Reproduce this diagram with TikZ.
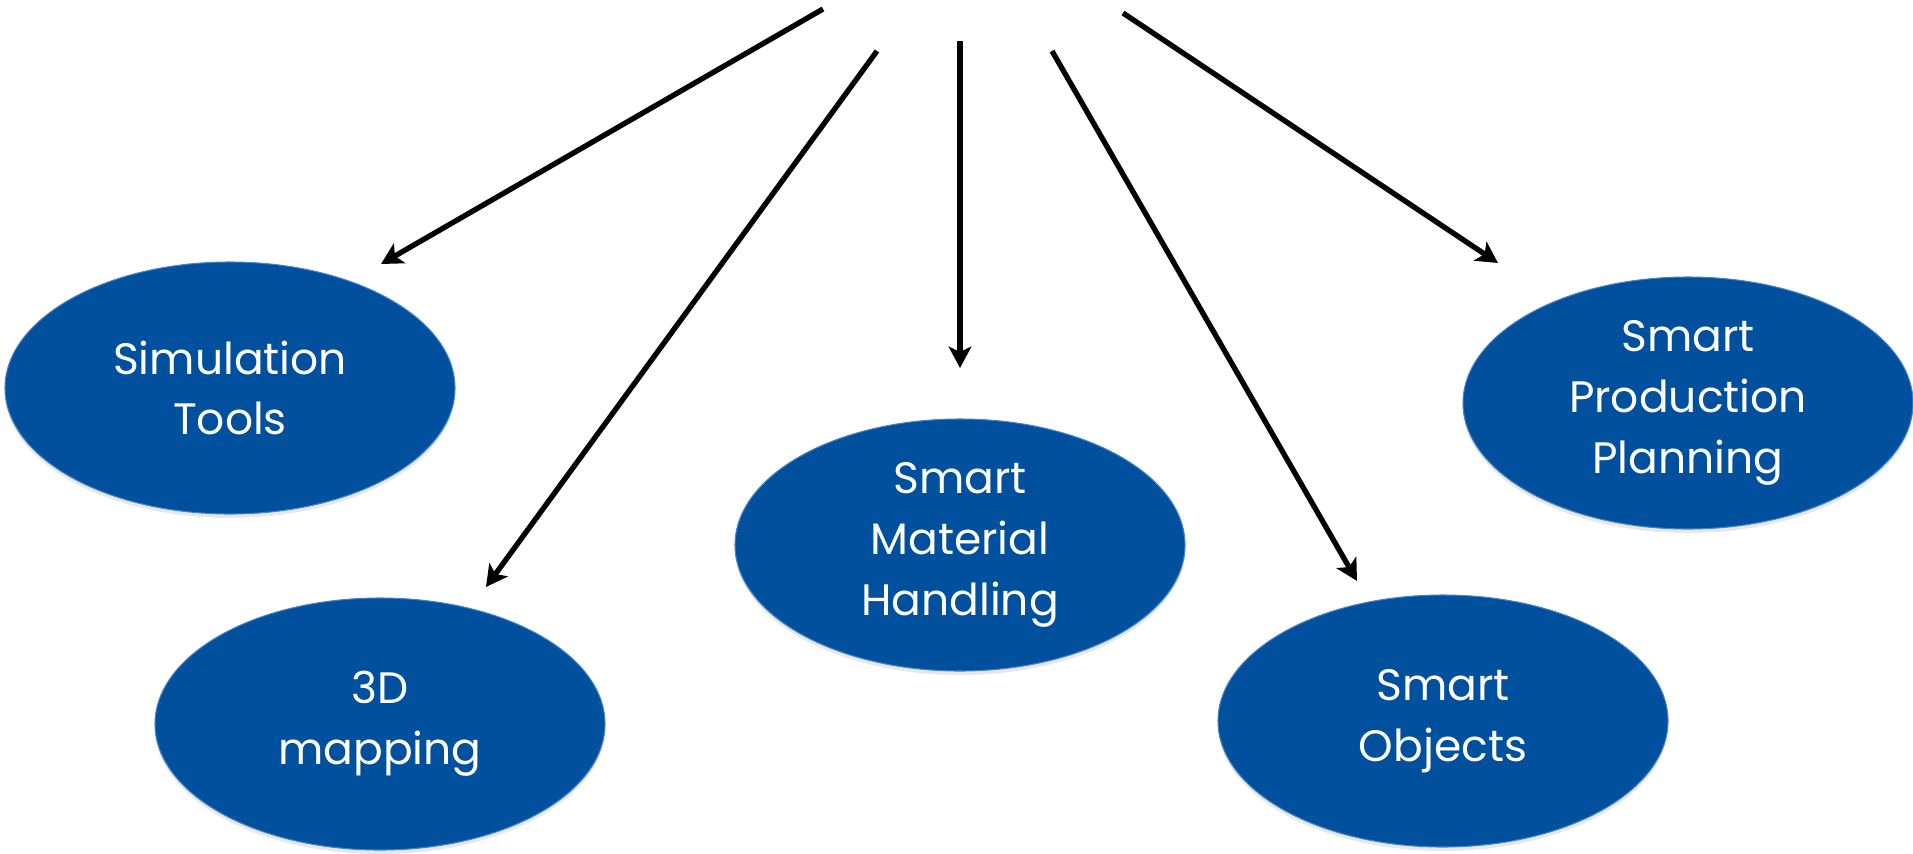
\documentclass[tikz,border=0pt]{standalone}
\usepackage{fontspec}
\setmainfont{Poppins}
\usetikzlibrary{arrows.meta,shapes.geometric,shadows}
\definecolor{topicblue}{RGB}{0,80,158}
\definecolor{topicedge}{RGB}{70,130,200}
\tikzset{
  topic/.style={ellipse, fill=topicblue, draw=topicedge, line width=0.8pt,
    minimum width=450*0.75pt, minimum height=252*0.75pt, inner sep=0pt,
    text=white, align=center, font=\fontsize{33}{45.5}\selectfont,
    drop shadow={opacity=0.18, shadow xshift=0pt, shadow yshift=-3pt}},
  link/.style={line width=4pt, -{Stealth[length=16pt, width=17pt, inset=4pt]}}
}
\begin{document}
\begin{tikzpicture}[x=0.75pt, y=-0.75pt]
  \useasboundingbox (0,0) rectangle (1913,853);

  % topic ellipses
  \node[topic] (sim)  at (230,388)  {Simulation\\Tools};
  \node[topic] (map)  at (380,724)  {3D\\mapping};
  \node[topic] (mat)  at (960,545)  {Smart\\Material\\Handling};
  \node[topic] (obj)  at (1443,721) {Smart\\Objects};
  \node[topic] (plan) at (1688,403) {Smart\\Production\\Planning};

  % start and end points of the fanned-out arrows
  \coordinate (s1) at (823,9);    \coordinate (t1) at (381,264);
  \coordinate (s2) at (877,51);   \coordinate (t2) at (486,587);
  \coordinate (s3) at (960,41);   \coordinate (t3) at (960,368);
  \coordinate (s4) at (1052,51);  \coordinate (t4) at (1357,581);
  \coordinate (s5) at (1123,13);  \coordinate (t5) at (1498,263);

  \draw[link] (s1) -- (t1);
  \draw[link] (s2) -- (t2);
  \draw[link] (s3) -- (t3);
  \draw[link] (s4) -- (t4);
  \draw[link] (s5) -- (t5);
\end{tikzpicture}
\end{document}
